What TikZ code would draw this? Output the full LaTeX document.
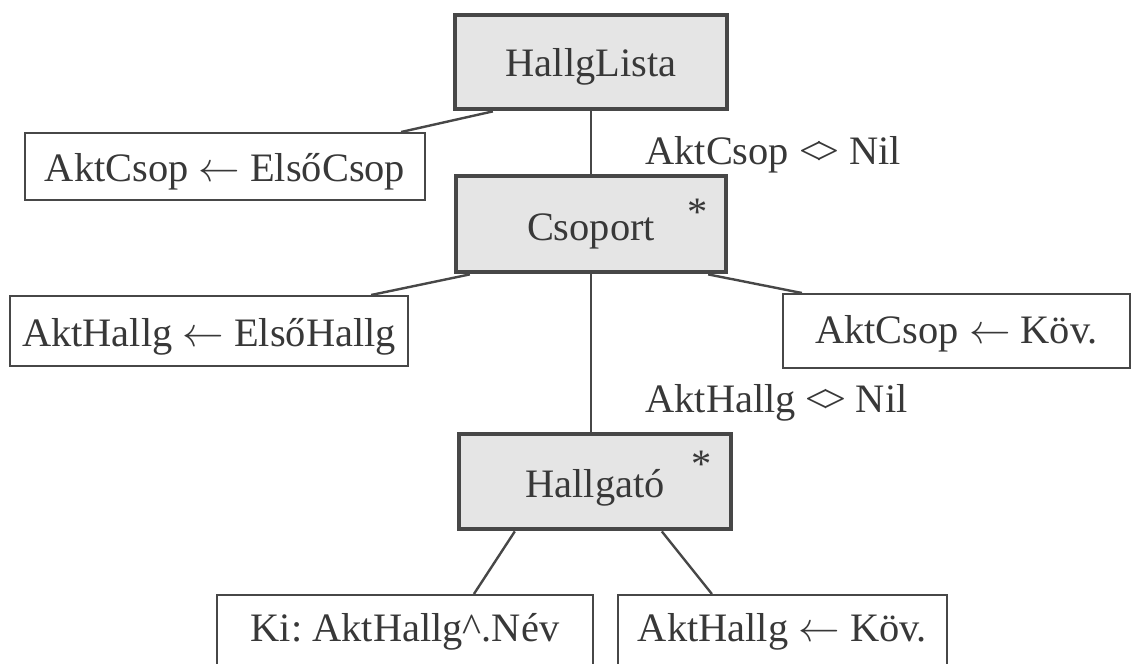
\documentclass[tikz,border=0pt]{standalone}
\usepackage{fontspec}
\setmainfont{Liberation Serif}
\usetikzlibrary{calc}
\frenchspacing
\definecolor{ink}{HTML}{383838}
\definecolor{edge}{HTML}{474747}
\definecolor{shade}{HTML}{E5E5E5}
\newcommand{\ltgt}{{<}\kern-0.14em{>}}
\begin{document}
\begin{tikzpicture}[x=0.5pt,y=-0.5pt,
  every node/.style={text=ink, font=\fontsize{20.2pt}{24pt}\selectfont, inner sep=0pt},
  grey/.style={draw=edge, fill=shade, line width=2.2pt, anchor=north},
  plain/.style={draw=edge, fill=white, line width=1.1pt, anchor=north},
  wire/.style={draw=edge, line width=1.2pt},
  cond/.style={anchor=base west},
  star/.style={anchor=base}]
\useasboundingbox (0,0) rectangle (1133,663);
\clip (0,0) rectangle (1133,663);

% sequence / iteration blocks
\node[grey, minimum width=136pt, text height=30.5pt, text depth=16.5pt] (hl) at (591,13) {HallgLista};
\node[grey, minimum width=135pt, text height=32pt, text depth=16pt] (cs) at (591,174) {Csoport};
\node[grey, minimum width=136pt, text height=31.5pt, text depth=16pt] (hg) at (595,432) {Hallgató};

% elementary actions
\node[plain, minimum width=200pt, text height=24pt, text depth=9.5pt] (ac1) at (225,132) {AktCsop $\leftarrow$ ElsőCsop};
\node[plain, minimum width=199pt, text height=25pt, text depth=10pt] (ah1) at (209,295) {AktHallg $\leftarrow$ ElsőHallg};
\node[plain, minimum width=173.5pt, text height=24.5pt, text depth=12.5pt] (ack) at (956.5,293) {AktCsop $\leftarrow$ Köv.};
\node[plain, minimum width=188pt, text height=23pt, text depth=30pt] (ki) at (405,594) {Ki: AktHallg\^{}.Név};
\node[plain, minimum width=164.5pt, text height=23pt, text depth=30pt] (ahk) at (782.5,594) {AktHallg $\leftarrow$ Köv.};

% loop markers and conditions
\node[star] (s1) at (698,226) {*};
\node[star] (s2) at (702,477) {*};
\node[cond] (c1) at (645,165) {AktCsop \ltgt\ Nil};
\node[cond] (c2) at (645,412) {AktHallg \ltgt\ Nil};

% branches between the blocks
\draw[wire] (hl.south) -- (cs.north);
\draw[wire] ($(hl.south west)+(40,0)$) -- ($(ac1.north east)+(-25,0)$);
\draw[wire] (cs.south) -- (cs.south |- hg.north);
\draw[wire] ($(cs.south west)+(16,0)$) -- ($(ah1.north east)+(-38,0)$);
\draw[wire] ($(cs.south east)+(-20,0)$) -- ($(ack.north west)+(20,0)$);
\draw[wire] ($(hg.south west)+(58,0)$) -- ($(ki.north west)+(258,0)$);
\draw[wire] ($(hg.south west)+(205,0)$) -- ($(ahk.north west)+(95,0)$);
\end{tikzpicture}
\end{document}
